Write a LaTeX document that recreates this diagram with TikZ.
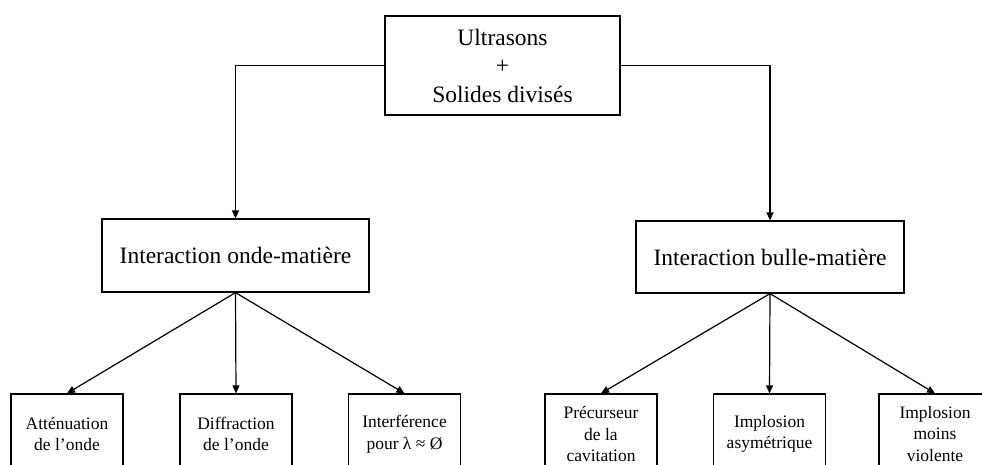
\documentclass[tikz,border=0pt]{standalone}
\usepackage{fontspec}
\setmainfont{Liberation Serif}
\usepackage{tikz}
\usetikzlibrary{arrows.meta, positioning}

\begin{document}
\begin{tikzpicture}[x=1pt, y=-1pt,
    boite/.style={draw, line width=1.2pt, align=center, inner sep=0pt},
    grand/.style={boite, font=\fontsize{23.5}{28.5}\selectfont},
    petit/.style={boite, font=\fontsize{17.5}{21.5}\selectfont,
                  minimum width=112pt, minimum height=80pt},
    fleche/.style={line width=1.2pt, -{Triangle[length=8pt, width=7pt]}}]
  \useasboundingbox (0,0) rectangle (982,464);

  % racine
  \node[grand, minimum width=235pt, minimum height=99pt] (racine) at (502.5, 65.5)
    {Ultrasons\\+\\Solides divisés};

  % deux branches
  \node[grand, minimum width=267pt, minimum height=73pt] (onde) at (235.5, 255.5)
    {Interaction onde-matière};
  \node[grand, minimum width=268pt, minimum height=72pt] (bulle) at (770, 257)
    {Interaction bulle-matière};

  % feuilles
  \node[petit] (attenuation) at (67, 434) {Atténuation\\de l’onde};
  \node[petit] (diffraction) at (236, 434) {Diffraction\\de l’onde};
  \node[petit] (interference) at (404.5, 434) {Interférence\\pour λ ≈ Ø};
  \node[petit] (precurseur) at (601, 434) {Précurseur\\de la\\cavitation};
  \node[petit] (asymetrique) at (769.5, 434) {Implosion\\asymétrique};
  \node[petit] (violente) at (935, 434) {Implosion\\moins\\violente};

  \draw[fleche] (racine.west) -| (onde.north);
  \draw[fleche] (racine.east) -| (bulle.north);

  \foreach \f in {attenuation, diffraction, interference}
    \draw[fleche] (onde.south) -- (\f.north);
  \foreach \f in {precurseur, asymetrique, violente}
    \draw[fleche] (bulle.south) -- (\f.north);
\end{tikzpicture}
\end{document}
